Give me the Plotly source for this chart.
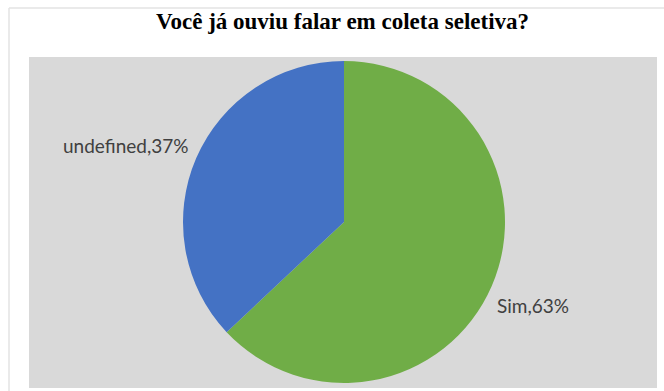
import plotly.graph_objects as go

# Survey answers and their shares (%)
labels = ["Sim", "undefined"]
values = [63, 37]
colors = ["#70ad47", "#4472c4"]
title_text = "Você já ouviu falar em coleta seletiva?"

W, H = 664, 391

# pie placement in pixels
cx, cy, r = 344, 222, 161

fig = go.Figure(go.Pie(
    labels=labels,
    values=values,
    sort=False,
    direction="clockwise",
    rotation=0,
    marker=dict(colors=colors, line=dict(width=0)),
    textinfo="none",
    hoverinfo="label+percent",
    showlegend=False,
    domain=dict(
        x=[(cx - r) / W, (cx + r) / W],
        y=[1 - (cy + r) / H, 1 - (cy - r) / H],
    ),
))

# outside data labels "Category,NN%"
label_pos = {"undefined": (126, 145), "Sim": (533, 305)}
total = sum(values)
for lab, val in zip(labels, values):
    px, py = label_pos[lab]
    fig.add_annotation(
        x=px / W, y=1 - py / H, xref="paper", yref="paper",
        text=f"{lab},{round(val / total * 100)}%",
        showarrow=False, xanchor="center", yanchor="middle",
        font=dict(family="Lato, Noto Sans, sans-serif", size=19, color="#404040"),
    )

# title
fig.add_annotation(
    x=342 / W, y=1 - 22 / H, xref="paper", yref="paper",
    text=f"<b>{title_text}</b>", showarrow=False,
    xanchor="center", yanchor="middle",
    font=dict(family="Liberation Serif, Times New Roman, serif", size=23, color="#000000"),
)

shapes = [
    # gray plot area
    dict(type="rect", xref="paper", yref="paper", layer="below",
         x0=29 / W, x1=657 / W, y0=1 - 388 / H, y1=1 - 57 / H,
         fillcolor="#d9d9d9", line=dict(width=0)),
    # thin frame lines
    dict(type="line", xref="paper", yref="paper", layer="below",
         x0=9 / W, x1=1, y0=1 - 8 / H, y1=1 - 8 / H,
         line=dict(color="#e3e3e3", width=1.5)),
    dict(type="line", xref="paper", yref="paper", layer="below",
         x0=9 / W, x1=9 / W, y0=0, y1=1 - 8 / H,
         line=dict(color="#e3e3e3", width=1.5)),
]

fig.update_layout(
    width=W, height=H,
    margin=dict(l=0, r=0, t=0, b=0),
    paper_bgcolor="#ffffff",
    plot_bgcolor="#ffffff",
    shapes=shapes,
)

fig.write_html("out.html")
